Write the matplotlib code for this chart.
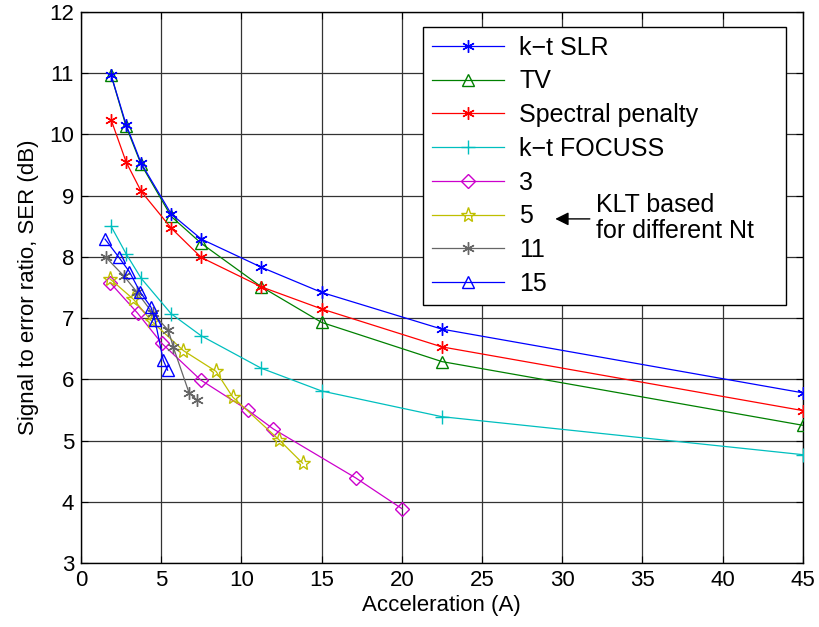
import matplotlib
matplotlib.use("Agg")
import matplotlib.pyplot as plt

plt.rcParams['font.family'] = ['Liberation Sans', 'DejaVu Sans']

# ---- data ----
acc_std = [1.875, 2.8125, 3.75, 5.625, 7.5, 11.25, 15, 22.5, 45]
ser_ktslr = [10.97, 10.16, 9.53, 8.70, 8.29, 7.83, 7.42, 6.82, 5.78]
ser_tv = [10.97, 10.13, 9.51, 8.66, 8.22, 7.51, 6.93, 6.29, 5.25]
ser_spec = [10.24, 9.55, 9.07, 8.47, 7.99, 7.51, 7.15, 6.53, 5.49]
ser_focuss = [8.50, 8.05, 7.65, 7.07, 6.71, 6.18, 5.81, 5.39, 4.77]

acc_klt3 = [1.81, 3.53, 5.03, 7.46, 10.39, 11.99, 17.13, 20.0]
ser_klt3 = [7.58, 7.08, 6.59, 5.99, 5.50, 5.19, 4.39, 3.89]
acc_klt5 = [1.81, 3.26, 4.40, 6.38, 8.42, 9.46, 12.36, 13.82]
ser_klt5 = [7.64, 7.31, 6.95, 6.47, 6.13, 5.71, 5.01, 4.63]
acc_klt11 = [1.56, 2.70, 3.47, 4.47, 5.45, 5.75, 6.75, 7.21]
ser_klt11 = [7.99, 7.68, 7.43, 7.08, 6.80, 6.53, 5.77, 5.67]
acc_klt15 = [1.50, 2.37, 3.01, 3.68, 4.36, 4.61, 5.13, 5.40]
ser_klt15 = [8.29, 7.99, 7.76, 7.43, 7.18, 6.97, 6.31, 6.15]

labels = ['k\u2212t SLR', 'TV', 'Spectral penalty', 'k\u2212t FOCUSS', '3', '5', '11', '15']
xticks = [0, 5, 10, 15, 20, 25, 30, 35, 40, 45]
yticks = [3, 4, 5, 6, 7, 8, 9, 10, 11, 12]

# ---- figure ----
fig = plt.figure(figsize=(8.19, 6.27), dpi=100)
ax = fig.add_axes([0.0989, 0.102, 0.8812, 0.879])

ast = (6, 2, 0)
lw = 0.9
ax.plot(acc_std, ser_ktslr, color='#0000ff', marker=ast, ms=9, lw=lw, label=labels[0], zorder=5)
ax.plot(acc_std, ser_tv, color='#008000', marker='^', ms=9, mfc='none', mew=1.0, lw=lw, label=labels[1], zorder=4)
ax.plot(acc_std, ser_spec, color='#ff0000', marker=ast, ms=9, lw=lw, label=labels[2], zorder=4)
ax.plot(acc_std, ser_focuss, color='#00bfbf', marker='+', ms=10, mew=1.0, lw=lw, label=labels[3], zorder=4)
ax.plot(acc_klt3, ser_klt3, color='#cc00cc', marker='D', ms=7, mfc='none', mew=1.0, lw=lw, label=labels[4], zorder=4)
ax.plot(acc_klt5, ser_klt5, color='#bfbf00', marker='*', ms=11, mfc='none', mew=1.0, lw=lw, label=labels[5], zorder=4)
ax.plot(acc_klt11, ser_klt11, color='#666666', marker=ast, ms=9, lw=lw, label=labels[6], zorder=4)
ax.plot(acc_klt15, ser_klt15, color='#0000ff', marker='^', ms=9, mfc='none', mew=1.0, lw=lw, label=labels[7], zorder=4)

ax.set_xlim(0, 45)
ax.set_ylim(3, 12)
ax.set_xticks(xticks)
ax.set_yticks(yticks)
ax.tick_params(direction='in', top=True, right=True, labelsize=16, length=5, width=0.8, pad=5)
ax.grid(True, color='#333333', lw=0.9, ls='-')
ax.set_axisbelow(True)
for s in ax.spines.values():
    s.set_linewidth(1.0)

ax.set_xlabel('Acceleration (A)', fontsize=16, labelpad=3)
ax.set_ylabel('Signal to error ratio, SER (dB)', fontsize=16, labelpad=7)

leg = ax.legend(loc='upper left', bbox_to_anchor=(0.474, 0.477, 0.503, 0.496), mode='expand',
                fontsize=18, frameon=True, fancybox=False, edgecolor='black', framealpha=1.0,
                handlelength=2.9, handletextpad=0.6, borderpad=0.35, labelspacing=0.39,
                borderaxespad=0.0)
leg.get_frame().set_linewidth(1.0)

# arrow + text for KLT group
ax.annotate('', xy=(29.4, 8.62), xytext=(31.9, 8.62),
            arrowprops=dict(arrowstyle='-|>', color='black', lw=1.0, mutation_scale=20),
            zorder=10)
ax.text(32.1, 8.63, 'KLT based\nfor different Nt', fontsize=18, va='center', ha='left',
        linespacing=1.1, zorder=10)

fig.savefig('out.png', dpi=100)
